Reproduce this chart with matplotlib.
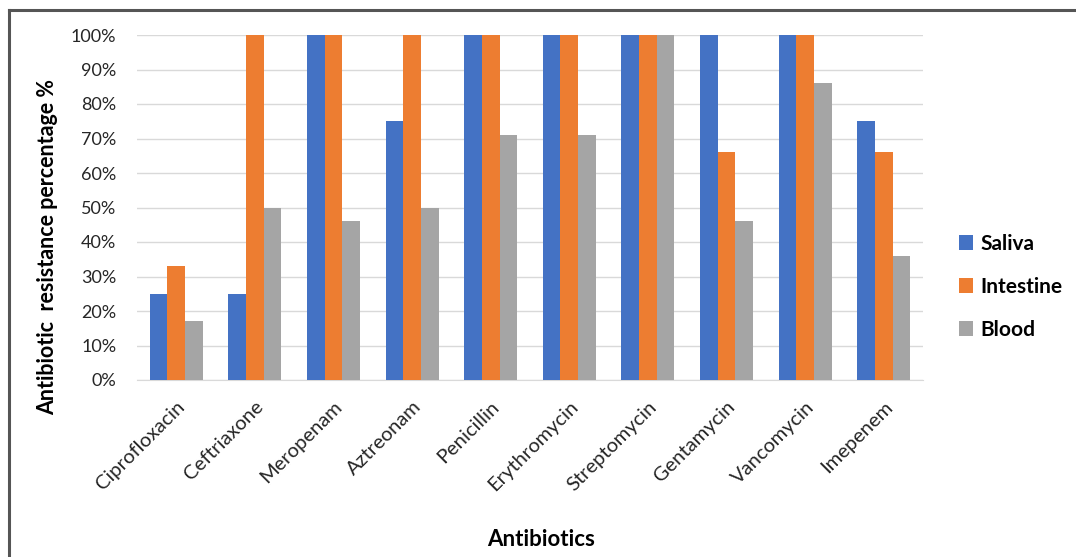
import numpy as np
import matplotlib
matplotlib.use("Agg")
import matplotlib.pyplot as plt
from matplotlib.lines import Line2D
from matplotlib.ticker import PercentFormatter

antibiotics = ["Ciprofloxacin", "Ceftriaxone", "Meropenam", "Aztreonam", "Penicillin",
               "Erythromycin", "Streptomycin", "Gentamycin", "Vancomycin", "Imepenem"]
saliva = [25, 25, 100, 75, 100, 100, 100, 100, 100, 75]
intestine = [33, 100, 100, 100, 100, 100, 100, 66, 100, 66]
blood = [17, 50, 46, 50, 71, 71, 100, 46, 86, 36]

series = [("Saliva", saliva, "#4472C4"),
          ("Intestine", intestine, "#ED7D31"),
          ("Blood", blood, "#A5A5A5")]

plt.rcParams["font.family"] = ["Lato", "DejaVu Sans"]

W, H = 1076, 557
fig = plt.figure(figsize=(W / 100, H / 100), dpi=100)
ax = fig.add_axes([137 / W, 1 - 380 / H, (923 - 137) / W, (380 - 35) / H])

x = np.arange(len(antibiotics))
bw = 0.225
for i, (name, vals, col) in enumerate(series):
    ax.bar(x + (i - 1) * bw, vals, width=bw, color=col, label=name, zorder=3)

ax.set_xlim(-0.5, len(antibiotics) - 0.5)
ax.set_ylim(0, 100)
ax.set_yticks(np.arange(0, 101, 10))
ax.yaxis.set_major_formatter(PercentFormatter(decimals=0))
ax.grid(axis="y", color="#D9D9D9", linewidth=1, zorder=0)
for s in ["top", "right", "left"]:
    ax.spines[s].set_visible(False)
ax.spines["bottom"].set_color("#D9D9D9")
ax.tick_params(axis="y", length=0, labelsize=13, pad=15)
ax.tick_params(axis="x", length=0, labelsize=14.5, pad=13)
ax.set_xticks(x)
ax.set_xticklabels(antibiotics, rotation=45, ha="right", va="top", rotation_mode="anchor")
for lab in ax.get_xticklabels() + ax.get_yticklabels():
    lab.set_color("#262626")

fig.text(48 / W, 1 - 247 / H, "Antibiotic  resistance percentage %", fontsize=15.5,
         fontweight="bold", rotation=90, ha="center", va="center")
fig.text(541 / W, 1 - 540 / H, "Antibiotics", fontsize=16, fontweight="bold",
         ha="center", va="center")

leg = ax.legend(loc="center left", bbox_to_anchor=(940 / W, 1 - 287 / H),
                bbox_transform=fig.transFigure, frameon=False, fontsize=15,
                handlelength=0.7, handleheight=0.7, handletextpad=0.35, labelspacing=1.1)
for t in leg.get_texts():
    t.set_fontweight("bold")

# frame lines along the top and left edges
fig.add_artist(Line2D([9 / W, 1], [1 - 10 / H, 1 - 10 / H], transform=fig.transFigure,
                      color="#555555", linewidth=2.2))
fig.add_artist(Line2D([9 / W, 9 / W], [0, 1 - 10 / H], transform=fig.transFigure,
                      color="#555555", linewidth=2.2))

fig.savefig("out.png", dpi=100)
